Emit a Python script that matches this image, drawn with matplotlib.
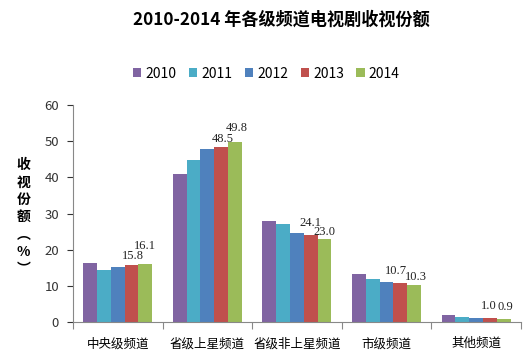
import matplotlib
matplotlib.use("Agg")
import matplotlib.pyplot as plt
import numpy as np

plt.rcParams['font.family'] = ['Noto Sans CJK SC', 'DejaVu Sans']

# 数据
categories = ['中央级频道', '省级上星频道', '省级非上星频道', '市级频道', '其他频道']
years = ['2010', '2011', '2012', '2013', '2014']
v2010 = [16.3, 40.9, 27.9, 13.3, 1.9]
v2011 = [14.4, 44.8, 27.2, 12.0, 1.5]
v2012 = [15.1, 47.9, 24.7, 11.0, 1.2]
v2013 = [15.8, 48.5, 24.1, 10.7, 1.0]
v2014 = [16.1, 49.8, 23.0, 10.3, 0.9]
series = [v2010, v2011, v2012, v2013, v2014]
colors = ['#8064A2', '#4BACC6', '#4F81BD', '#C0504D', '#9BBB59']

fig = plt.figure(figsize=(5.27, 3.59), dpi=100)
ax = fig.add_axes([0.1385, 0.103, 0.85, 0.6045])

x = np.arange(len(categories))
w = 0.154
# 标签离柱顶的距离（点）
lab_off = {3: [4.5, 3.5, 6.5, 6.5, 7], 4: [10.5, 7.5, 3, 3.5, 6]}
lab_dx = {3: [1, 1, 0, -3, -1], 4: [0, 1, 0, 1, 1]}
for i, vals in enumerate(series):
    pos = x + (i - 2) * w
    ax.bar(pos, vals, width=w, color=colors[i], label=years[i])
    # 只给 2013 和 2014 标数
    if i >= 3:
        for p, v, dx, o in zip(pos, vals, lab_dx[i], lab_off[i]):
            ax.annotate(f'{v:.1f}', (p, v), xytext=(dx, o), textcoords='offset points',
                        ha='center', va='baseline', fontsize=9,
                        family='Liberation Serif', color='#222222')

ax.set_xlim(-0.5, len(categories) - 0.5)
ax.set_ylim(0, 60)
ax.set_yticks(range(0, 61, 10))
ax.tick_params(axis='y', labelsize=9.5, colors='#333333', length=4, direction='out', pad=6)
ax.set_xticks(np.arange(-0.5, len(categories), 1))
ax.set_xticklabels([])
ax.set_xticks(x, minor=True)
ax.set_xticklabels(categories, minor=True, fontsize=9)
ax.tick_params(axis='x', which='major', length=5, color='#888888')
ax.tick_params(axis='x', which='minor', length=0, pad=11)
for s in ['top', 'right']:
    ax.spines[s].set_visible(False)
ax.spines['left'].set_color('#888888')
ax.spines['bottom'].set_color('#888888')

fig.text(0.044, 0.395, '收\n视\n份\n额\n︵\n%\n︶', ha='center', va='center',
         fontsize=10, fontweight='bold', linespacing=1.3)

fig.text(0.534, 0.945, '2010-2014 年各级频道电视剧收视份额', ha='center', va='center',
         fontsize=12.3, fontweight='bold')

fig.legend(loc='center', bbox_to_anchor=(0.505, 0.795), ncol=5, frameon=False,
           fontsize=10, handlelength=0.6, handleheight=0.6, handletextpad=0.3,
           columnspacing=0.9)

fig.savefig('out.png', dpi=100)
